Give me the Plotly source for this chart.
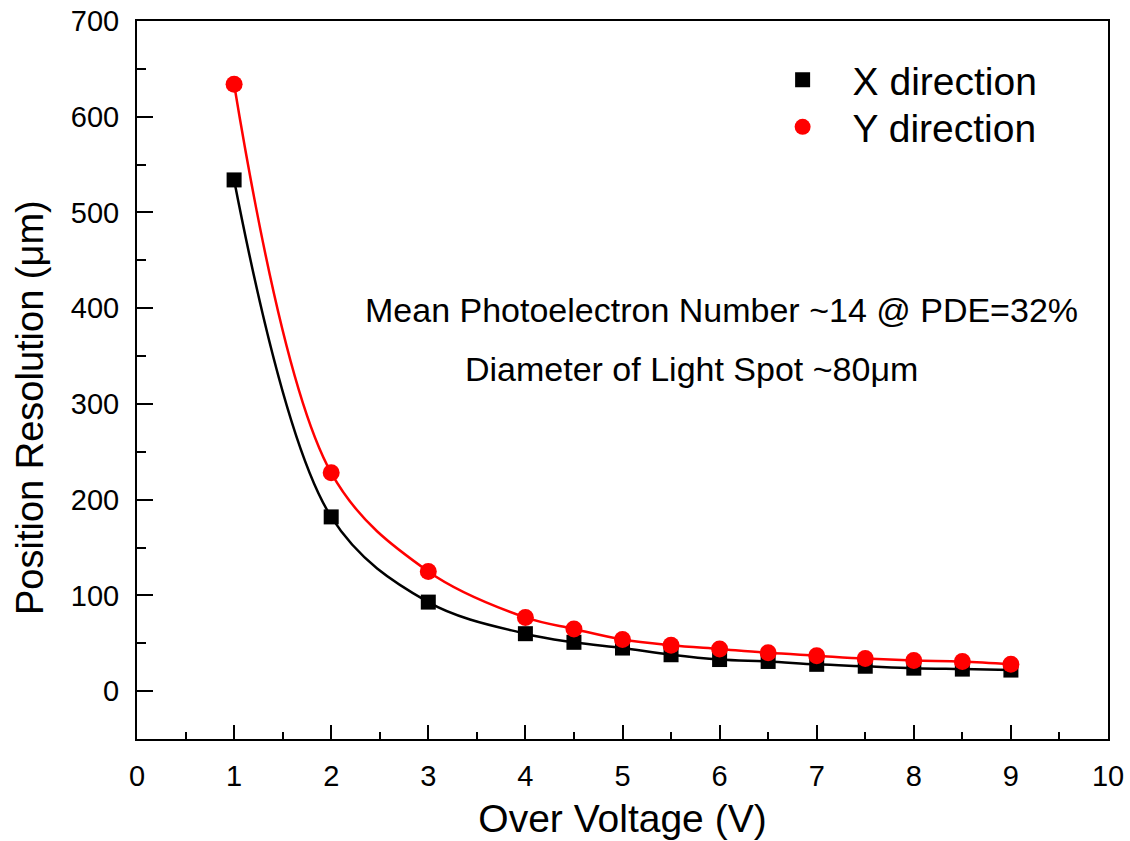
import plotly.graph_objects as go

# Data
over_voltage = [1, 2, 3, 4, 4.5, 5, 5.5, 6, 6.5, 7, 7.5, 8, 8.5, 9]
x_resolution = [534, 182, 93, 60, 51, 45, 38, 33, 31, 28, 26, 24, 23, 22]
y_resolution = [634, 228, 125, 77, 65, 54, 48, 44, 40, 37, 34, 32, 31, 28]

x_tick_vals = list(range(0, 11))
y_tick_vals = list(range(0, 701, 100))

FONT = "Liberation Sans, Arial, sans-serif"

fig = go.Figure()

# fit curves
fig.add_trace(go.Scatter(x=over_voltage, y=x_resolution, mode="lines",
                         line=dict(color="black", width=2.5, shape="spline", smoothing=1.0),
                         showlegend=False, hoverinfo="skip"))
fig.add_trace(go.Scatter(x=over_voltage, y=y_resolution, mode="lines",
                         line=dict(color="#ff0000", width=2.5, shape="spline", smoothing=1.0),
                         showlegend=False, hoverinfo="skip"))
# markers
fig.add_trace(go.Scatter(x=over_voltage, y=x_resolution, mode="markers", name="X direction",
                         marker=dict(symbol="square", size=15, color="black"), legend="legend"))
fig.add_trace(go.Scatter(x=over_voltage, y=y_resolution, mode="markers", name="Y direction",
                         marker=dict(symbol="circle", size=17, color="#ff0000"), legend="legend2"))

axis_common = dict(
    showline=True, linecolor="black", linewidth=2, mirror=True,
    ticks="inside", tickwidth=2, tickcolor="black",
    showgrid=False, zeroline=False, automargin=False,
    tickfont=dict(family=FONT, size=29, color="black"),
    title_font=dict(family=FONT, size=39, color="black"),
)

fig.update_xaxes(range=[0, 10], tickvals=x_tick_vals, ticklen=14,
                 minor=dict(ticks="inside", ticklen=7, tickwidth=2, tickcolor="black", dtick=0.5, tick0=0),
                 title_text="Over Voltage (V)", title_standoff=14, ticklabelstandoff=10,
                 **axis_common)
fig.update_yaxes(range=[-50, 700], tickvals=y_tick_vals, ticklen=16,
                 minor=dict(ticks="inside", ticklen=9, tickwidth=2, tickcolor="black", dtick=50, tick0=0),
                 ticklabelstandoff=10,
                 **axis_common)

# y-axis title (placed as in the original, slightly below axis centre)
fig.add_annotation(x=-0.1102, y=0.4624, xref="paper", yref="paper", xanchor="center", yanchor="middle",
                   text="Position Resolution (μm)", textangle=-90, showarrow=False,
                   font=dict(family=FONT, size=38, color="black"))

fig.add_annotation(x=2.33, y=398, xref="x", yref="y", xanchor="left", yanchor="middle",
                   text="Mean Photoelectron Number ~14 @ PDE=32%", showarrow=False,
                   font=dict(family=FONT, size=34, color="black"))
fig.add_annotation(x=3.36, y=337, xref="x", yref="y", xanchor="left", yanchor="middle",
                   text="Diameter of Light Spot ~80μm", showarrow=False,
                   font=dict(family=FONT, size=34, color="black"))

legend_common = dict(xanchor="left", yanchor="middle",
                     font=dict(family=FONT, size=39, color="black"),
                     bgcolor="rgba(0,0,0,0)", itemwidth=90)

fig.update_layout(
    width=1130, height=841,
    margin=dict(l=137, r=22, t=21, b=102),
    paper_bgcolor="white", plot_bgcolor="white",
    legend=dict(x=0.634, y=0.9178, **legend_common),
    legend2=dict(x=0.634, y=0.8524, **legend_common),
)

fig.write_html("out.html")
